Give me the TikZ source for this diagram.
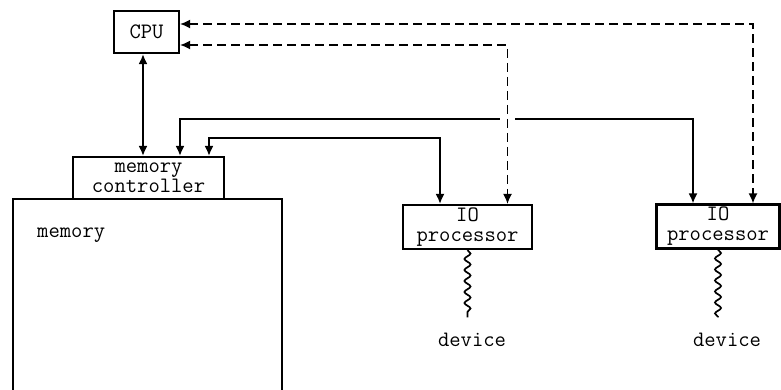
\documentclass[tikz,border=0pt]{standalone}
\usetikzlibrary{arrows.meta,calc,decorations.pathmorphing}
\newcommand\diafont{\ttfamily\fontsize{22}{20}\selectfont}
\begin{document}
\begin{tikzpicture}[x=1pt,y=-1pt,
  box/.style={draw, line width=2.1pt, inner sep=0pt, align=center, font=\diafont},
  lbl/.style={font=\diafont, inner sep=0pt},
  tip/.tip={Latex[length=10pt,width=9pt]},
  conn/.style={line width=1.9pt, tip-tip},
  dconn/.style={conn, line width=1.6pt, dash pattern=on 9pt off 5pt},
  wig/.style={line width=1.7pt, decorate, decoration={snake, segment length=11pt, amplitude=3pt}}]
\useasboundingbox (0,0) rectangle (781,389);
\clip (0,0) rectangle (781,389);
% memory and controller
\node[box, minimum width=269pt, minimum height=240pt] (mem) at (147.5,319) {};
\node[lbl, anchor=base west] (memlbl) at (37,237) {memory};
\node[box, fill=white, minimum width=151pt, minimum height=42pt] (mc) at (148.5,178) {memory\\controller};
\node[box, minimum width=65pt, minimum height=42pt] (cpu) at (146.5,32) {CPU};
\node[box, minimum width=129pt, minimum height=44pt] (io1) at (467.5,227) {IO\\processor};
\node[box, minimum width=123pt, minimum height=44pt] (io2) at (718,226.5) {IO\\processor};
\node[lbl, anchor=base] (dev1) at (472,346) {device};
\node[lbl, anchor=base] (dev2) at (727,346) {device};
% connectors
\draw[conn] ($(cpu.south)+(-3.5,0)$) -- ($(cpu.south |- mc.north)+(-3.5,0)$);
\draw[conn] ($(mc.north)+(31.5,0)$) -- ++(0,-37) -| ($(io2.north)+(-25,0)$);
\draw[conn] ($(mc.north)+(60.5,0)$) -- ++(0,-18) -| ($(io1.north)+(-27.5,0)$);
\fill[white] (500,114) rectangle (515,126);
\draw[dconn] ($(cpu.east)+(0,-8)$) -| ($(io2.north)+(35,0)$);
\draw[dconn] ($(cpu.east)+(0,13)$) -| ($(io1.north)+(40,0)$);
\draw[wig] (io1.south) -- ($(io1.south |- dev1.north)+(0,-15)$);
\draw[wig] (io2.south) -- ($(io2.south |- dev2.north)+(0,-15)$);
\end{tikzpicture}
\end{document}
